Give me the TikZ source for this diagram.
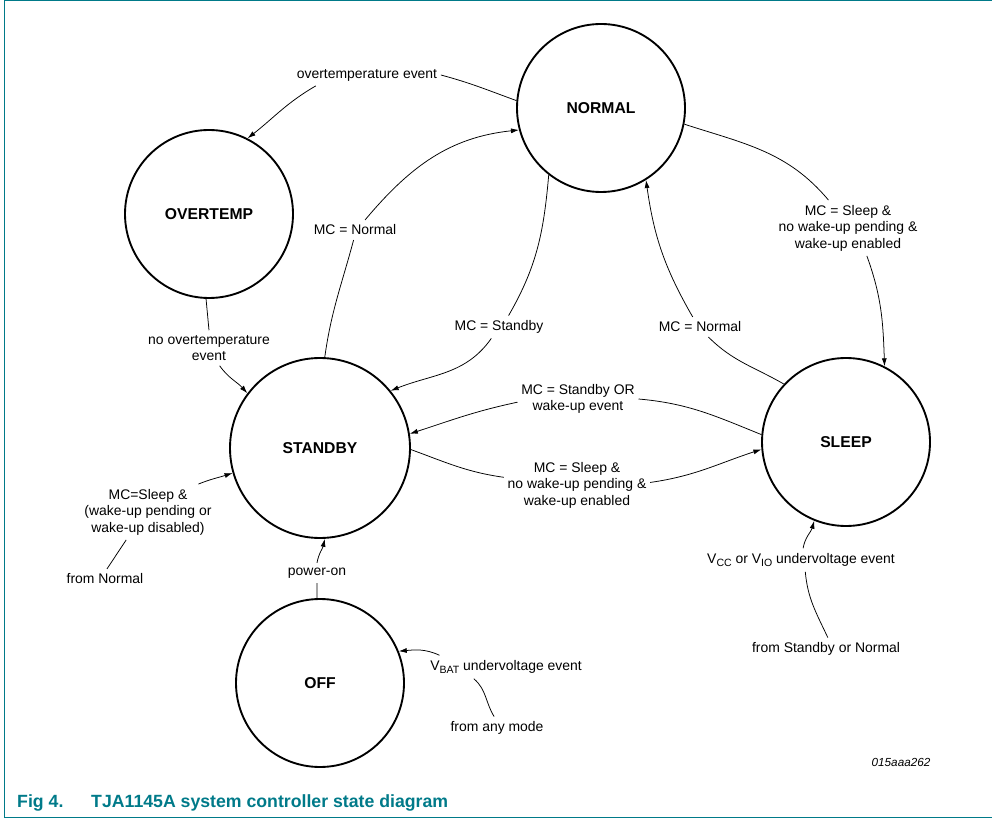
\documentclass[tikz,border=0pt]{standalone}
\usepackage{fontspec}
\setmainfont{Liberation Sans}
\usetikzlibrary{arrows.meta}
\definecolor{nxpteal}{RGB}{0,122,137}
\def\lowsub#1{\raisebox{-3pt}{\fontsize{9pt}{10pt}\selectfont #1}}
\def\dtr{\draw[tr]}

\begin{document}
\begin{tikzpicture}[x=0.3mm,y=0.3mm,
    state/.style={circle,draw,line width=1.6pt,minimum size=5.04cm,inner sep=0pt,
        font=\fontsize{13.4pt}{16pt}\selectfont\bfseries},
    lab/.style={align=center,inner xsep=3pt,inner ysep=4pt,
        font=\fontsize{11.9pt}{14.1pt}\selectfont},
    tr/.style={-{Latex[length=2.4mm,width=1.5mm]},line width=0.65pt}]
                \useasboundingbox (0,0) rectangle (992,820);
                \draw[nxpteal,line width=1.1pt] (992,819.3) -- (4.3,819.3) -- (4.3,2.3) -- (992,2.3);
                \node[state] (normal)   at (601,712) {NORMAL};
                \node[state] (overtemp) at (209,606) {OVERTEMP};
                \node[state,minimum size=5.4cm] (standby) at (320,372) {STANDBY};
                \node[state] (sleep)    at (846,378) {SLEEP};
                \node[state] (off)      at (320,137) {OFF};
                \node[lab] (lOT)     at (367,745) {overtemperature event};
                \node[lab] (lNormA)  at (355,590) {MC = Normal};
                \node[lab] (lStbyA)  at (499,493) {MC = Standby};
                \node[lab] (lNormB)  at (700,493) {MC = Normal};
                \node[lab] (lSleepA) at (848,592) {MC = Sleep \&\\no wake-up pending \&\\wake-up enabled};
                \node[lab] (lStbyB)  at (578,421) {MC = Standby OR\\wake-up event};
                \node[lab] (lSleepB) at (577,335) {MC = Sleep \&\\no wake-up pending \&\\wake-up enabled};
                \node[lab] (lNoOT)   at (209,472) {no overtemperature\\event};
                \node[lab] (lSleepC) at (148,308) {MC=Sleep \&\\(wake-up pending or\\wake-up disabled)};
                \node[lab] (fromN)   at (105,241) {from Normal};
                \node[lab] (lPower)  at (317,247) {power-on};
                \node[lab] (lVbat)   at (506,153) {V\lowsub{BAT} undervoltage event};
                \node[lab] (fromAny) at (497,92)  {from any mode};
                \node[lab] (lVcc)    at (801,260) {V\lowsub{CC} or V\lowsub{IO} undervoltage event};
                \node[lab] (fromSN)  at (826,171) {from Standby or Normal};
                \dtr (normal.175) to[out=160,in=-15] (lOT.east) (lOT.192) to[out=210,in=38] (overtemp.63);
                \dtr (standby.87) to[out=82,in=-105] (lNormA.-98) (lNormA.45) to[out=50,in=186] (normal.195);
                \dtr (normal.232) to[out=265,in=60] (lStbyA.50) (lStbyA.236) to[out=235,in=22] (standby.39);
                \dtr (sleep.137) to[out=150,in=-45] (lNormB.-50) (lNormB.126) to[out=120,in=-82] (normal.302);
                \dtr (normal.-11) to[out=-18,in=130] (lSleepA.125) (lSleepA.-56) to[out=-70,in=92] (sleep.63);
                \dtr (sleep.175) to[out=158,in=-5] (lStbyB.east) (lStbyB.183) to[out=192,in=18] (standby.9);
                \dtr (standby.-1) to[out=-20,in=172] (lSleepB.174) (lSleepB.2) to[out=8,in=198] (sleep.185);
                \dtr (overtemp.268) -- (lNoOT.north) (lNoOT.-59) to[out=-55,in=132] (standby.143);
                \dtr (fromN.79) -- (lSleepC.232) (lSleepC.29) to[out=22,in=198] (standby.196);
                \dtr (off.92) -- (lPower.south) (lPower.north) to[out=80,in=-102] (standby.273);
                \dtr (fromAny.104) to[out=122,in=-40] (lVbat.200) (lVbat.170) to[out=155,in=5] (off.22);
                \dtr (fromSN.81) to[out=115,in=-85] (lVcc.-70) (lVcc.80) to[out=80,in=-105] (sleep.248);
                \node[font=\fontsize{10pt}{12pt}\selectfont\itshape] (code) at (901,58) {015aaa262};
                \node[anchor=base west,inner sep=0pt,text=nxpteal,font=\fontsize{15.1pt}{17pt}\selectfont\bfseries] (fig) at (17,13) {Fig 4.};
                \node[anchor=base west,inner sep=0pt,text=nxpteal,font=\fontsize{15.1pt}{17pt}\selectfont\bfseries] (title) at (91,13) {TJA1145A system controller state diagram};
            \end{tikzpicture}
\end{document}
